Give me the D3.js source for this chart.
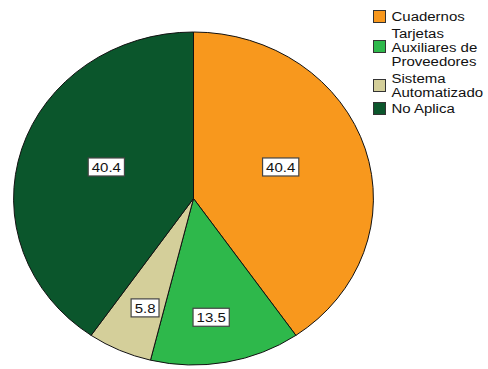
<!DOCTYPE html>
<html><head><meta charset="utf-8">
<script src="https://cdn.jsdelivr.net/npm/d3@7"></script>
<style>
html,body{margin:0;padding:0;background:#fff;}
svg{display:block;font-family:"Liberation Sans",Arial,sans-serif;}
</style></head>
<body><svg id="c" width="488" height="369"></svg>
<script>
const categories = ["Cuadernos", "Tarjetas Auxiliares de Proveedores", "Sistema Automatizado", "No Aplica"];
const legendLines = [["Cuadernos"], ["Tarjetas", "Auxiliares de", "Proveedores"], ["Sistema", "Automatizado"], ["No Aplica"]];
const values = [40.4, 13.5, 5.8, 40.4];
const valueLabels = ["40.4", "13.5", "5.8", "40.4"];
const colors = ["#F8981D", "#2EB84B", "#D4CF9A", "#0B562C"];

const svg = d3.select("#c");
const cx = 193.5, cy = 198.5, rx = 180, ry = 166.5;
const labelR = [0.52, 0.72, 0.71, 0.52];
const labelShift = [-4, 2.6, -2, 4]; // degrees
const stretch = 1.11;

const pie = d3.pie().sort(null).value(d => d);
const arcs = pie(values);
const arc = d3.arc().innerRadius(0).outerRadius(1);

const g = svg.append("g").attr("transform", `translate(${cx},${cy}) scale(${rx},${ry})`);
g.selectAll("path").data(arcs).join("path")
  .attr("d", arc)
  .attr("fill", (d, i) => colors[i])
  .attr("stroke", "#111")
  .attr("stroke-width", 1)
  .attr("vector-effect", "non-scaling-stroke");

const lg = svg.append("g");
arcs.forEach((a, i) => {
  const ang = (a.startAngle + a.endAngle) / 2 + labelShift[i] * Math.PI / 180;
  const x = cx + rx * labelR[i] * Math.sin(ang);
  const y = cy - ry * labelR[i] * Math.cos(ang);
  const box = lg.append("rect");
  const tg = lg.append("g").attr("transform", `translate(${x},${y + 4.7}) scale(${stretch},1)`);
  const t = tg.append("text").attr("x", 0).attr("y", 0)
    .attr("text-anchor", "middle").attr("font-size", 13.5).attr("fill", "#111")
    .text(valueLabels[i]);
  const w = t.node().getBBox().width * stretch;
  box.attr("x", x - w / 2 - 3.5).attr("y", y - 9).attr("width", w + 7).attr("height", 18)
    .attr("fill", "#fff").attr("stroke", "#444").attr("stroke-width", 1.2);
});

// legend
const leg = svg.append("g");
const lineY = [[16], [33, 47, 61], [78, 92], [108]];
const swY = [10, 40, 79, 102];
categories.forEach((c, i) => {
  leg.append("rect").attr("x", 373.5).attr("y", swY[i] + 0.5).attr("width", 12).attr("height", 12)
    .attr("fill", colors[i]).attr("stroke", "#333").attr("stroke-width", 1);
  const t = leg.append("g").attr("transform", `translate(391.5,0) scale(${stretch},1)`)
    .append("text").attr("font-size", 13.5).attr("fill", "#111");
  legendLines[i].forEach((ln, j) => {
    t.append("tspan").attr("x", 0).attr("y", lineY[i][j] + 4.7).text(ln);
  });
});
</script></body></html>
